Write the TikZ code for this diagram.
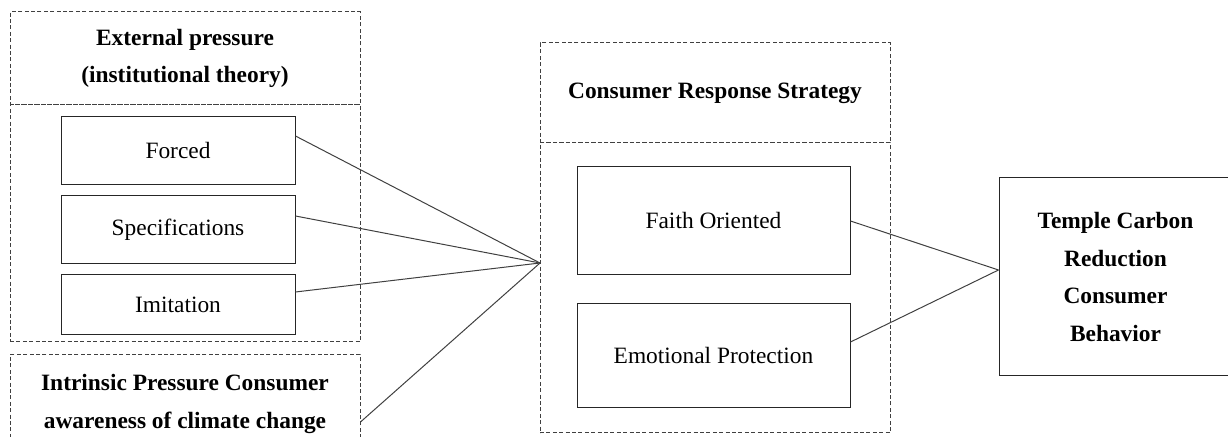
\documentclass[tikz,border=0pt]{standalone}
\usepackage{fontspec}
\setmainfont{Liberation Serif}
\begin{document}
\begin{tikzpicture}[x=0.5pt, y=-0.5pt,
 every node/.style={font=\fontsize{11.7}{18.8}\selectfont, align=center, inner sep=0pt},
 dashbox/.style={draw=black!75, line width=0.5pt, dash pattern=on 2pt off 1.2pt, minimum width=175pt},
 solidbox/.style={draw=black!85, line width=0.5pt},
 title/.style={font=\fontsize{11.7}{18.8}\selectfont\bfseries},
 link/.style={draw=black!75, line width=0.5pt}]
\useasboundingbox (0,0) rectangle (1228,437);
\clip (0,0) rectangle (1228,437);
\node[dashbox, title, minimum height=46.5pt] (extHead) at (185,58.5) {External pressure\\(institutional theory)};
\node[dashbox, minimum height=118.5pt] (extGroup) at (185,223.5) {};
\node[solidbox, minimum width=117pt, minimum height=34pt] (forced) at (178,151) {Forced};
\node[solidbox, minimum width=117pt, minimum height=34pt] (spec) at (178,230) {Specifications};
\node[solidbox, minimum width=117pt, minimum height=30pt] (imit) at (178,305) {Imitation};
\node[dashbox, title, minimum height=49pt] (intr) at (185,404) {Intrinsic Pressure Consumer\\awareness of climate change};
\node[dashbox, title, minimum height=50pt] (respHead) at (715,93) {Consumer Response Strategy};
\node[dashbox, minimum height=145pt] (respGroup) at (715,288) {};
\node[solidbox, minimum width=136.5pt, minimum height=54pt] (faith) at (713.5,221) {Faith Oriented};
\node[solidbox, minimum width=136.5pt, minimum height=52pt] (emot) at (713.5,356) {Emotional Protection};
\node[solidbox, title, minimum width=116.5pt, minimum height=99pt] (target) at (1115.5,277) {Temple Carbon\\Reduction\\Consumer\\Behavior};
\coordinate (hub) at (540,263);
\draw[link] ([yshift=7.5pt]forced.east) -- (hub);
\draw[link] ([yshift=7pt]spec.east) -- (hub);
\draw[link] ([yshift=6.5pt]imit.east) -- (hub);
\draw[link] ([yshift=-9pt]intr.east) -- (hub);
\draw[link] (faith.east) -- ([yshift=3.5pt]target.west);
\draw[link] ([yshift=7pt]emot.east) -- ([yshift=3.5pt]target.west);
\end{tikzpicture}
\end{document}
